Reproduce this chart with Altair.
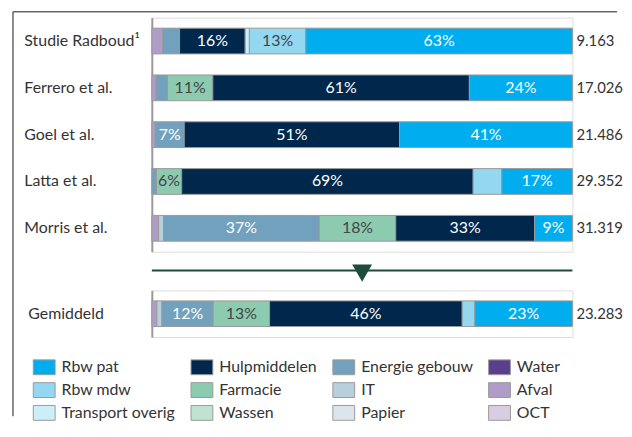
import altair as alt
import pandas as pd

# ---------------- data ----------------
studies = ["Studie Radboud¹", "Ferrero et al.", "Goel et al.", "Latta et al.", "Morris et al."]
average_name = "Gemiddeld"

# stacking order, left to right
categories = ["OCT", "Afval", "Water", "Papier", "IT", "Energie gebouw", "Wassen",
              "Farmacie", "Hulpmiddelen", "Transport overig", "Rbw mdw", "Rbw pat"]

# legend order (filled column by column, 3 rows x 4 columns)
legend_order = ["Rbw pat", "Rbw mdw", "Transport overig",
                "Hulpmiddelen", "Farmacie", "Wassen",
                "Energie gebouw", "IT", "Papier",
                "Water", "Afval", "OCT"]
legend_colors = ["#00adef", "#93d7f1", "#cdedf9",
                 "#00284d", "#8ccbb0", "#bfe3d3",
                 "#72a1bd", "#b8cfdc", "#dde5ec",
                 "#5b3f8f", "#b09cc8", "#d9cde4"]

# shares (%) per study, aligned with `categories`
radboud = [0, 2.6, 0, 0, 0, 4.0, 0, 0, 15.6, 1.0, 13.4, 63.4]
ferrero = [0, 1.0, 0, 0, 0, 2.7, 0, 10.8, 61.0, 0, 0, 24.5]
goel    = [0, 0.8, 0, 0, 0, 6.9, 0, 0, 51.2, 0, 0, 41.1]
latta   = [0, 0, 0, 0, 0, 1.1, 0, 6.0, 69.3, 0, 6.8, 16.8]
morris  = [0, 1.6, 0, 0, 1.2, 37.0, 0, 18.2, 33.0, 0, 0, 9.0]
average = [0, 1.2, 0, 0, 1.2, 12.2, 0, 13.4, 45.8, 0, 3.0, 23.2]

# printed percentage labels
radboud_labels = {"Hulpmiddelen": "16%", "Rbw mdw": "13%", "Rbw pat": "63%"}
ferrero_labels = {"Farmacie": "11%", "Hulpmiddelen": "61%", "Rbw pat": "24%"}
goel_labels    = {"Energie gebouw": "7%", "Hulpmiddelen": "51%", "Rbw pat": "41%"}
latta_labels   = {"Farmacie": "6%", "Hulpmiddelen": "69%", "Rbw pat": "17%"}
morris_labels  = {"Energie gebouw": "37%", "Farmacie": "18%", "Hulpmiddelen": "33%", "Rbw pat": "9%"}
average_labels = {"Energie gebouw": "12%", "Farmacie": "13%", "Hulpmiddelen": "46%", "Rbw pat": "23%"}

totals = ["9.163", "17.026", "21.486", "29.352", "31.319"]
average_total = "23.283"

# ---------------- tables ----------------
def rows(name, values, labels):
    out = []
    for i, (c, v) in enumerate(zip(categories, values)):
        if v > 0:
            out.append({"study": name, "cat": c, "value": v, "order": i,
                        "label": labels.get(c, "")})
    return out

top_rows = []
for n, v, l in zip(studies, [radboud, ferrero, goel, latta, morris],
                   [radboud_labels, ferrero_labels, goel_labels, latta_labels, morris_labels]):
    top_rows += rows(n, v, l)
df_top = pd.DataFrame(top_rows)
df_avg = pd.DataFrame(rows(average_name, average, average_labels))
df_tot = pd.DataFrame({"study": studies, "total": totals})
df_avg_tot = pd.DataFrame({"study": [average_name], "total": [average_total]})
one = pd.DataFrame({"k": [0]})

W = 424
FONT = "Lato"
FS = 16
TXT = "#333333"
GREY = "#9a9a9a"
DARK_LABELS = "indexof(['Farmacie','Rbw mdw','Wassen','Transport overig'], datum.cat) >= 0"
RECT = "M-1,-0.68L1,-0.68L1,0.68L-1,0.68Z"

xscale = alt.Scale(domain=[0, 1], nice=False, zero=False)
color = alt.Color("cat:N", scale=alt.Scale(domain=legend_order, range=legend_colors),
                  legend=alt.Legend(title=None, orient="none", legendX=-120, legendY=341,
                                    columns=4, symbolType=RECT, symbolSize=484,
                                    symbolStrokeColor=GREY, symbolStrokeWidth=1,
                                    labelFontSize=FS, labelFont=FONT, labelColor=TXT,
                                    labelOffset=6, columnPadding=13, rowPadding=2,
                                    padding=0))


def panel(df, df_t, order, label_pad, height):
    y = alt.Y("study:N", sort=order,
              scale=alt.Scale(paddingInner=0.45, paddingOuter=0.225),
              axis=alt.Axis(title=None, ticks=False, tickSize=0, labelAlign="left",
                            labelPadding=label_pad, domainColor=GREY, domainWidth=2,
                            labelFontSize=FS, labelFont=FONT, labelColor=TXT, grid=False))
    base = alt.Chart(df).transform_stack(
        stack="value", groupby=["study"], as_=["x0", "x1"],
        sort=[alt.SortField("order")], offset="normalize"
    ).transform_calculate(mid="(datum.x0 + datum.x1) / 2")
    bars = base.mark_bar(stroke=GREY, strokeWidth=1).encode(
        x=alt.X("x0:Q", scale=xscale, axis=None), x2="x1:Q", y=y, color=color)
    text = base.transform_filter("datum.label != ''").mark_text(
        fontSize=FS, font=FONT).encode(
        x=alt.X("mid:Q", scale=xscale, axis=None), y=y, text="label:N",
        color=alt.condition(DARK_LABELS, alt.value("#444444"), alt.value("white")))
    tot = alt.Chart(df_t).mark_text(align="left", fontSize=15, font=FONT, color=TXT).encode(
        x=alt.value(W + 4), y=y, text="total:N")
    return bars, text, tot, height


b1, t1, s1, h1 = panel(df_top, df_tot, studies, 129, 236)
frame_left = alt.Chart(one).mark_rule(color="#666666", strokeWidth=1.5).encode(
    x=alt.value(-140), y=alt.value(-6), y2=alt.value(402))
frame_top = alt.Chart(one).mark_rule(color="#666666", strokeWidth=1.5).encode(
    x=alt.value(-140), x2=alt.value(469), y=alt.value(-6))
top = alt.layer(frame_left, frame_top, b1, t1, s1).properties(width=W, height=h1)

b2, t2, s2, h2 = panel(df_avg, df_avg_tot, [average_name], 125, 47)
sep = alt.Chart(one).mark_rule(color="#1d4b3c", strokeWidth=2).encode(
    x=alt.value(0), x2=alt.value(W), y=alt.value(-20))
tri = alt.Chart(one).mark_point(shape="triangle-down", filled=True, size=400,
                                color="#1d4b3c", opacity=1).encode(
    x=alt.value(W / 2), y=alt.value(-17.5))
bottom = alt.layer(sep, tri, b2, t2, s2).properties(width=W, height=h2)

chart = alt.vconcat(top, bottom, spacing=39, bounds="flush").properties(
    padding={"left": 3, "top": 0, "right": 0, "bottom": 0}
).configure_view(stroke=None).configure(font=FONT)

chart.save("out.html", embed_options={"renderer": "svg", "actions": False})
